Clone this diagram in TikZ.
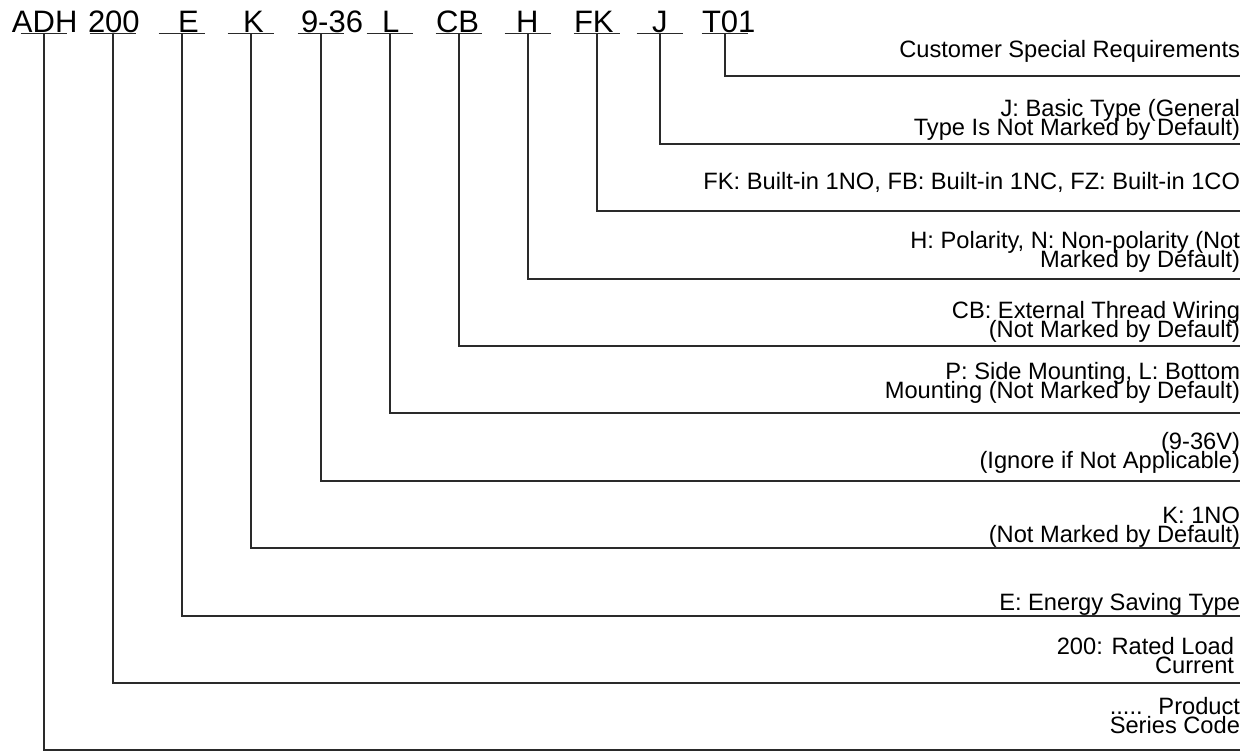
\documentclass[tikz,border=0pt]{standalone}
\usepackage{fontspec}
\setmainfont{Liberation Sans}
\usepackage{calc}
\definecolor{leadgray}{HTML}{2A2A2A}
\begin{document}
\lineskiplimit=-20pt
\lineskip=0pt
\begin{tikzpicture}[x=0.75pt,y=-0.75pt,
  code/.style={anchor=base west, inner sep=0pt, outer sep=0pt, font=\fontsize{23.25}{28}\selectfont},
  desc/.style={anchor=south east, align=right, inner sep=0pt, outer sep=0pt, text depth=0pt,
    font=\fontsize{17.75}{14}\selectfont},
  lead/.style={line width=1.1pt, draw=leadgray},
  uline/.style={line width=1.1pt, draw=leadgray}]
\useasboundingbox (0,0) rectangle (1255,751);

% code characters
\node[code] (cADH) at (12,32) {ADH};
\node[code] (c200) at (88,32) {200};
\node[code] (cE)   at (178,32) {E};
\node[code] (cK)   at (243,32) {K};
\node[code] (c936) at (301,32) {9-36};
\node[code] (cL)   at (382,32) {L};
\node[code] (cCB)  at (436,32) {CB};
\node[code] (cH)   at (516,32) {H};
\node[code] (cFK)  at (574,32) {FK};
\node[code] (cJ)   at (652,32) {J};
\node[code] (cT)   at (702,32) {T01};

% descriptions
\node[desc] (dT)   at (1240,57)  {Customer Special Requirements};
\node[desc] (dJ)   at (1240,135) {J: Basic Type (General\\Type Is Not Marked by Default)};
\node[desc] (dFK)  at (1240,189) {FK: Built-in 1NO, FB: Built-in 1NC, FZ: Built-in 1CO};
\node[desc] (dH)   at (1240,267) {H: Polarity, N: Non-polarity (Not\\Marked by Default)};
\node[desc] (dCB)  at (1240,337) {CB: External Thread Wiring\\(Not Marked by Default)};
\node[desc] (dL)   at (1240,398) {P: Side Mounting, L: Bottom\\Mounting (Not Marked by Default)};
\node[desc] (d936) at (1240,468) {(9-36V)\\(Ignore if Not Applicable)};
\node[desc] (dK)   at (1240,542) {K: 1NO\\(Not Marked by Default)};
\node[desc] (dE)   at (1240,610) {E: Energy Saving Type};
\node[desc] (d200) at (1234,673) {200: Rated Load\\Current};
\node[desc] (dADH) at (1240,733) {\makebox[\widthof{Series Code}][l]{.....\hfill Product}\\Series Code};

% leader lines
\foreach \n/\xv/\yl in {T/725/76, J/660/144, FK/597/211, H/528/279, CB/459/346, L/390/413,
                        936/321/481, K/251/548, E/182/616, 200/113/683, ADH/44/750} {
  \coordinate (u\n) at (\xv,33.5);
  \coordinate (e\n) at (1240,\yl);
  \draw[uline] ([xshift=-17.5]u\n) -- ([xshift=17.5]u\n);
  \draw[lead] (u\n) |- (e\n);
}
\end{tikzpicture}
\end{document}
